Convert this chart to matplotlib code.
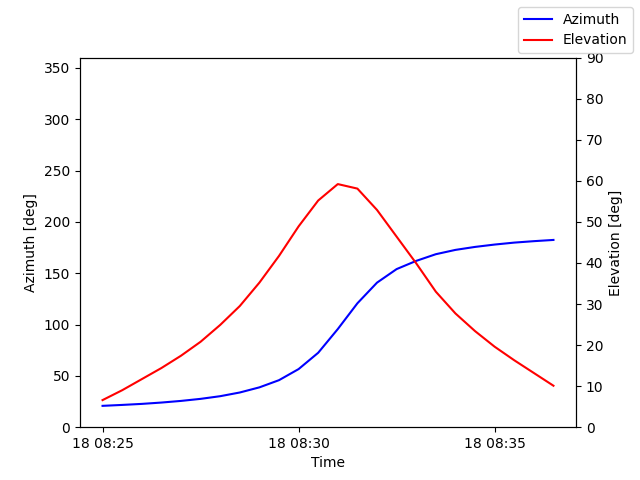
import matplotlib
matplotlib.use("Agg")
import matplotlib.pyplot as plt
import matplotlib.dates as mdates
import pandas as pd

times = pd.date_range("2023-05-18 08:25:00", periods=24, freq="30s")
azimuth = [20.8, 21.7, 22.7, 24.0, 25.6, 27.6, 30.2, 33.8, 38.8, 45.8,
           56.6, 72.5, 95.6, 120.7, 140.8, 154.0, 162.0, 168.5, 172.7, 175.6,
           177.9, 179.8, 181.2, 182.4]
elevation = [6.6, 9.0, 11.7, 14.4, 17.4, 20.8, 24.9, 29.5, 35.2, 41.7, 48.9, 55.2,
             59.2, 58.1, 52.9, 46.4, 39.9, 33.0, 27.7, 23.4, 19.6, 16.3, 13.2, 10.1]

fig, ax = plt.subplots(figsize=(6.4, 4.8), dpi=100)
ax.plot(times, azimuth, color="blue", label="Azimuth")
ax.set_ylim(0, 360)
ax.set_ylabel("Azimuth [deg]")
ax.set_xlabel("Time")
ax2 = ax.twinx()
ax2.plot(times, elevation, color="red", label="Elevation")
ax2.set_ylim(0, 90)
ax2.set_ylabel("Elevation [deg]")
ax.xaxis.set_major_locator(mdates.MinuteLocator(byminute=range(0, 60, 5)))
ax.xaxis.set_major_formatter(mdates.DateFormatter("%d %H:%M"))
fig.legend(loc="upper right")
fig.savefig("out.png")
